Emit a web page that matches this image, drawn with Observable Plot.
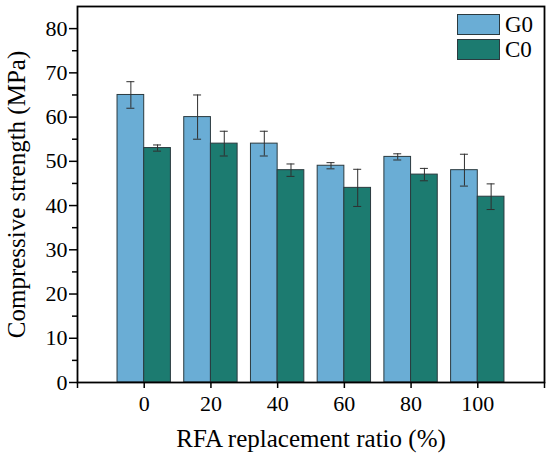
<!DOCTYPE html>
<html>
<head>
<meta charset="utf-8">
<script src="https://cdn.jsdelivr.net/npm/d3@7"></script>
<script src="https://cdn.jsdelivr.net/npm/@observablehq/plot@0.6"></script>
<style>
  html, body { margin: 0; padding: 0; background: #fff; }
  #wrap { position: relative; width: 550px; height: 454px; }
  #wrap svg, #wrap svg text { font-family: "Liberation Serif", "Times New Roman", serif !important; }
  .legend { position: absolute; left: 457px; top: 14px; font-family: "Liberation Serif", "Times New Roman", serif; font-size: 23px; color: #000; line-height: 21px; }
  .legend .row { display: flex; align-items: center; height: 21px; margin-bottom: 4px; }
  .legend .sw { width: 41px; height: 19px; border: 1px solid #2b3a3f; margin-right: 5px; }
</style>
</head>
<body>
<div id="wrap"></div>
<script>
const ratios = [0, 20, 40, 60, 80, 100];
const seriesNames = ["G0", "C0"];
const g0Values = [65, 60, 54, 49, 51, 48];
const g0Errors = [3.0, 5.0, 2.8, 0.7, 0.7, 3.6];
const c0Values = [53, 54, 48, 44, 47, 42];
const c0Errors = [0.7, 2.8, 1.4, 4.2, 1.4, 2.9];
const colors = ["#6aadd5", "#1c7b70"];
const xTicks = [-20, 0, 20, 40, 60, 80, 100, 120];
const yTicks = [0, 10, 20, 30, 40, 50, 60, 70, 80];
const yMinorTicks = [5, 15, 25, 35, 45, 55, 65, 75];

const barW = 8; // bar width in x units
const rows = [];
ratios.forEach((r, i) => {
  rows.push({ratio: r, series: "G0", value: g0Values[i], err: g0Errors[i], off: -1});
  rows.push({ratio: r, series: "C0", value: c0Values[i], err: c0Errors[i], off: 0});
});
const cx = d => d.ratio + (d.off + 0.5) * barW;
const capHalf = 1.2;

const font = "'Liberation Serif', 'Times New Roman', serif";

const chart = Plot.plot({
  width: 550,
  height: 454,
  marginLeft: 77,
  marginRight: 6,
  marginTop: 6,
  marginBottom: 72,
  style: {fontFamily: font, fontSize: "22px", color: "#000", background: "#fff"},
  x: {domain: [-20, 120]},
  y: {domain: [0, 85]},
  color: {domain: seriesNames, range: colors},
  marks: [
    Plot.rectY(rows, {
      x1: d => d.ratio + d.off * barW,
      x2: d => d.ratio + (d.off + 1) * barW,
      y1: 0,
      y2: "value",
      fill: "series",
      stroke: "#2b3a3f",
      strokeWidth: 1
    }),
    Plot.ruleX(rows, {x: cx, y1: d => d.value - d.err, y2: d => d.value + d.err, stroke: "#2f2f2f", strokeWidth: 1}),
    Plot.ruleY(rows, {y: d => d.value + d.err, x1: d => cx(d) - capHalf, x2: d => cx(d) + capHalf, stroke: "#2f2f2f", strokeWidth: 1}),
    Plot.ruleY(rows, {y: d => d.value - d.err, x1: d => cx(d) - capHalf, x2: d => cx(d) + capHalf, stroke: "#2f2f2f", strokeWidth: 1}),
    Plot.axisX({ticks: xTicks, tickFormat: d => (d < 0 || d > 100) ? "" : String(d), tickSize: 6, tickPadding: 7, label: null, stroke: "#000", strokeWidth: 1.5, fontSize: 22}),
    Plot.axisY({ticks: yTicks, tickSize: 8, tickPadding: 2, label: null, stroke: "#000", strokeWidth: 1.5, fontSize: 22}),
    Plot.axisY({ticks: yMinorTicks, tickSize: 5, tickFormat: () => "", label: null, stroke: "#000", strokeWidth: 1.5}),
    Plot.frame({stroke: "#000", strokeWidth: 1.8}),
    Plot.text(["RFA replacement ratio (%)"], {frameAnchor: "bottom", textAnchor: "middle", lineAnchor: "middle", dy: 56, fontSize: 25, fill: "#000"}),
    Plot.text(["Compressive strength (MPa)"], {frameAnchor: "left", textAnchor: "middle", lineAnchor: "middle", rotate: -90, dx: -61, fontSize: 25, fill: "#000"})
  ]
});

const wrap = document.getElementById("wrap");
wrap.appendChild(chart);

const legend = document.createElement("div");
legend.className = "legend";
seriesNames.forEach((name, i) => {
  const row = document.createElement("div");
  row.className = "row";
  const sw = document.createElement("div");
  sw.className = "sw";
  sw.style.background = colors[i];
  const lab = document.createElement("span");
  lab.textContent = name;
  row.appendChild(sw);
  row.appendChild(lab);
  legend.appendChild(row);
});
wrap.appendChild(legend);
</script>
</body>
</html>
